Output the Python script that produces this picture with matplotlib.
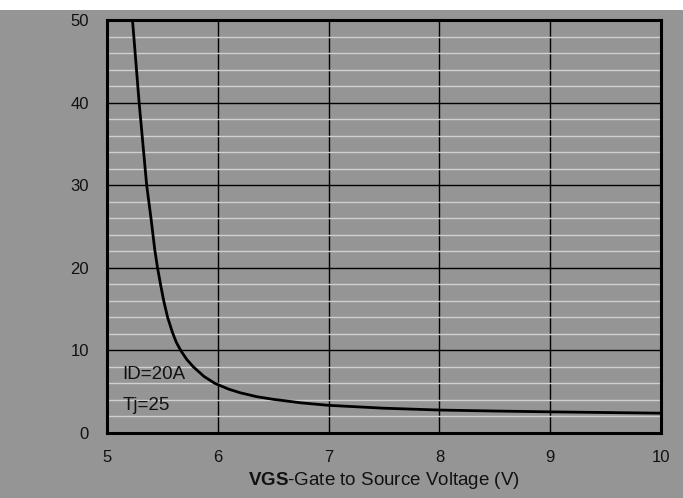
import matplotlib
matplotlib.use("Agg")
import matplotlib.pyplot as plt
from matplotlib.patches import Rectangle

plt.rcParams['font.family'] = ['Liberation Sans', 'DejaVu Sans']
plt.rcParams['mathtext.fontset'] = 'custom'
plt.rcParams['mathtext.rm'] = 'Liberation Sans'
plt.rcParams['mathtext.bf'] = 'Liberation Sans:bold'

vgs = [5.23, 5.29, 5.358, 5.397, 5.431, 5.456, 5.483, 5.512, 5.547, 5.59,
       5.625, 5.665, 5.72, 5.78, 5.875, 5.975, 6.1, 6.2, 6.35, 6.5, 6.75, 7.0,
       7.5, 8.0, 8.5, 9.0, 9.5, 10.0]
rds = [50, 40, 30, 26, 22.2, 20, 18, 16, 14, 12.2,
       11.0, 10, 8.9, 8.0, 6.85, 6.0, 5.3, 4.88, 4.4, 4.08, 3.65, 3.35,
       3.0, 2.78, 2.66, 2.56, 2.48, 2.4]
xticks = [5, 6, 7, 8, 9, 10]
yticks = [0, 10, 20, 30, 40, 50]
yminor = [2, 4, 6, 8, 12, 14, 16, 18, 22, 24, 26, 28, 32, 34, 36, 38, 42, 44, 46, 48]

W, H = 683, 498
bg = '#959595'
fig = plt.figure(figsize=(W/100, H/100), dpi=100, facecolor=bg)
fig.patches.append(Rectangle((0, 1-10/H), 1, 10/H, transform=fig.transFigure,
                             facecolor='white', edgecolor='none', zorder=0))

ax = fig.add_axes([107/W, 1-433/H, (661-107)/W, (433-20)/H])
ax.set_facecolor(bg)
ax.set_xlim(5, 10)
ax.set_ylim(0, 50)
ax.set_xticks(xticks)
ax.set_yticks(yticks)
ax.set_yticks(yminor, minor=True)
ax.tick_params(which='both', length=0)
ax.tick_params(axis='x', pad=12, labelsize=12, colors='#111111')
ax.tick_params(axis='y', pad=13, labelsize=12, colors='#111111')
ax.grid(which='major', color='black', linewidth=1.0)
ax.grid(which='minor', axis='y', color='#d0d0d0', linewidth=1.0)
ax.set_axisbelow(True)
for s in ax.spines.values():
    s.set_linewidth(2.2)
    s.set_color('black')

ax.plot(vgs, rds, color='black', linewidth=2.0, zorder=3,
        solid_joinstyle='round', antialiased=True)

ax.text(5.14, 7.14, 'ID=20A', fontsize=13.5, color='#111111', va='center')
ax.text(5.14, 3.3, 'Tj=25', fontsize=13.5, color='#111111', va='center')

ax.set_xlabel(r'$\bf{VGS}$-Gate to Source Voltage (V)', fontsize=13.5, color='#111111', labelpad=4)

fig.savefig('out.png', dpi=100, facecolor=bg)
